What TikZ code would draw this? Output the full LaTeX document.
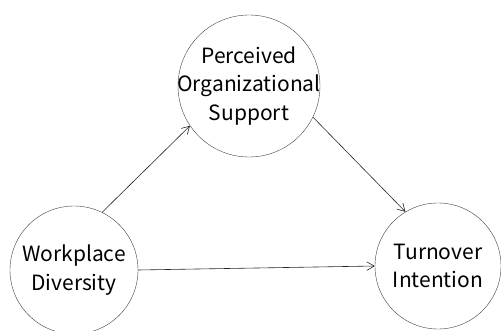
\documentclass[tikz,border=0pt]{standalone}
\usepackage{fontspec}
\setmainfont{Noto Sans CJK KR}
\usepackage{tikz}
\usetikzlibrary{arrows.meta,positioning}

\begin{document}
\begin{tikzpicture}[
    x=1pt, y=1pt,
    var/.style={draw=black!75, circle, align=center, inner sep=-20pt, font=\fontsize{21}{28.5}\selectfont},
    arrow/.style={-{Straight Barb[length=2.6mm,width=3mm]}, line width=0.6pt, black!85}
  ]
    \useasboundingbox (0,0) rectangle (501,330);
    \clip (0,0) rectangle (501,330);
    \node[var, minimum size=142pt] (pos) at (249,244) {Perceived\\Organizational\\Support};
    \node[var, minimum size=128pt] (wd) at (74,60) {Workplace\\Diversity};
    \node[var, minimum size=126pt] (ti) at (438,64) {Turnover\\Intention};

    \draw[arrow] (wd.64) -- (pos.214);
    \draw[arrow] (pos.-26) -- (ti.121);
    \draw[arrow] (wd.east) -- (ti.west);
\end{tikzpicture}
\end{document}
